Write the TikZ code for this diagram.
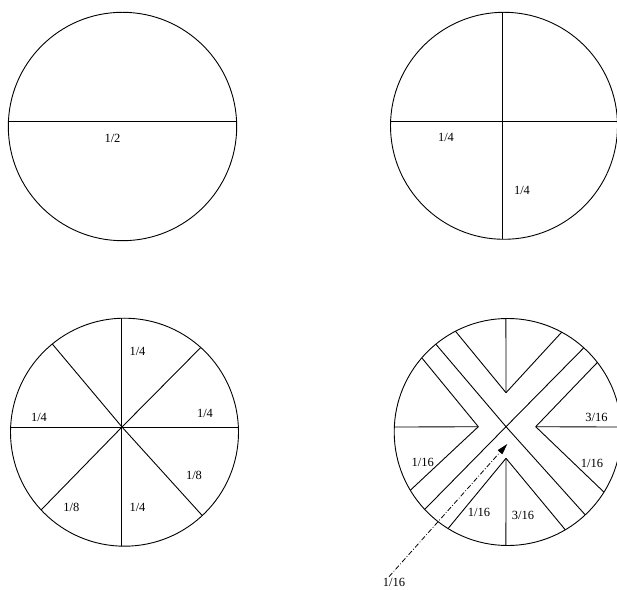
\documentclass[tikz,border=0pt]{standalone}
\usepackage{fontspec}
\setmainfont{Liberation Serif}
\usetikzlibrary{arrows.meta}

\tikzset{
    rim/.style={line width=0.9pt},
    cut/.style={line width=0.9pt},
    frac/.style={inner sep=0pt,font=\fontsize{12.5}{14}\selectfont},
    pointer/.style={line width=0.8pt,dash pattern=on 5pt off 2pt on 0.8pt off 2pt,
        -{Triangle[length=11pt,width=6pt]}},
}

\begin{document}
\begin{tikzpicture}[x=1pt,y=1pt,line join=round]
    \useasboundingbox (0,0) rectangle (617,589);

    % one half
    \coordinate (c1) at (122.5,462.5);
    \draw[rim] (c1) circle[radius=114.2];
    \draw[cut] ([shift={(177.6:114.2)}]c1) -- ([shift={(2.4:114.2)}]c1);
    \node[frac] (half) at (112.5,451) {1/2};

    % quarters
    \coordinate (c2) at (504,463.2);
    \draw[rim] (c2) circle[radius=113.5];
    \draw[cut] ([shift={(177.6:113.5)}]c2) -- ([shift={(2.4:113.5)}]c2);
    \draw[cut] ([shift={(91:113.5)}]c2) -- ([shift={(269:113.5)}]c2);
    \node[frac] (qa) at (446,451.3) {1/4};
    \node[frac] (qb) at (522,398.7) {1/4};

    % eighths
    \coordinate (c3) at (124.5,156.8);
    \coordinate (o3) at (122,162);
    \draw[rim] (c3) circle[radius=114];
    \draw[cut] ([shift={(177.4:114)}]c3) -- ([shift={(2.6:114)}]c3);
    \draw[cut] ([shift={(91.3:114)}]c3) -- ([shift={(268.7:114)}]c3);
    \foreach \a in {129.3,48,223,313} {
        \draw[cut] (o3) -- ([shift={(\a:114)}]c3);
    }
    \node[frac] (ea) at (137.5,238) {1/4};
    \node[frac] (eb) at (205,175.7) {1/4};
    \node[frac] (ec) at (39,171.3) {1/4};
    \node[frac] (ed) at (194,113.7) {1/8};
    \node[frac] (ee) at (71.3,82) {1/8};
    \node[frac] (ef) at (137.5,81.5) {1/4};

    % sixteenths
    \coordinate (c4) at (507.7,157);
    \coordinate (o4) at (506,162.3);
    \coordinate (tv) at (506,196.3);
    \coordinate (bv) at (506,130.7);
    \coordinate (lv) at (478.3,162.3);
    \coordinate (rv) at (535.7,162.3);
    \draw[rim] (c4) circle[radius=113.5];
    \foreach \a in {129.3,47.9,223,313.1} {
        \draw[cut] (o4) -- ([shift={(\a:113.5)}]c4);
    }
    \foreach \a in {90.9,117.4,61.6} {
        \draw[cut] (tv) -- ([shift={(\a:113.5)}]c4);
    }
    \foreach \a in {269.1,238.3,300.5} {
        \draw[cut] (bv) -- ([shift={(\a:113.5)}]c4);
    }
    \foreach \a in {177.5,139.2,210.9} {
        \draw[cut] (lv) -- ([shift={(\a:113.5)}]c4);
    }
    \foreach \a in {2.5,37.8,328} {
        \draw[cut] (rv) -- ([shift={(\a:113.5)}]c4);
    }
    \node[frac] (sa) at (596.5,171.3) {3/16};
    \node[frac] (sb) at (422.8,126.3) {1/16};
    \node[frac] (sc) at (592,125.7) {1/16};
    \node[frac] (sd) at (479,76.5) {1/16};
    \node[frac] (se) at (523,73.7) {3/16};
    \node[frac] (sf) at (394,7) {1/16};

    \coordinate (tail) at (389,12.3);
    \coordinate (tip) at (507.3,145);
    \draw[pointer] (tail) -- (tip);
\end{tikzpicture}
\end{document}
